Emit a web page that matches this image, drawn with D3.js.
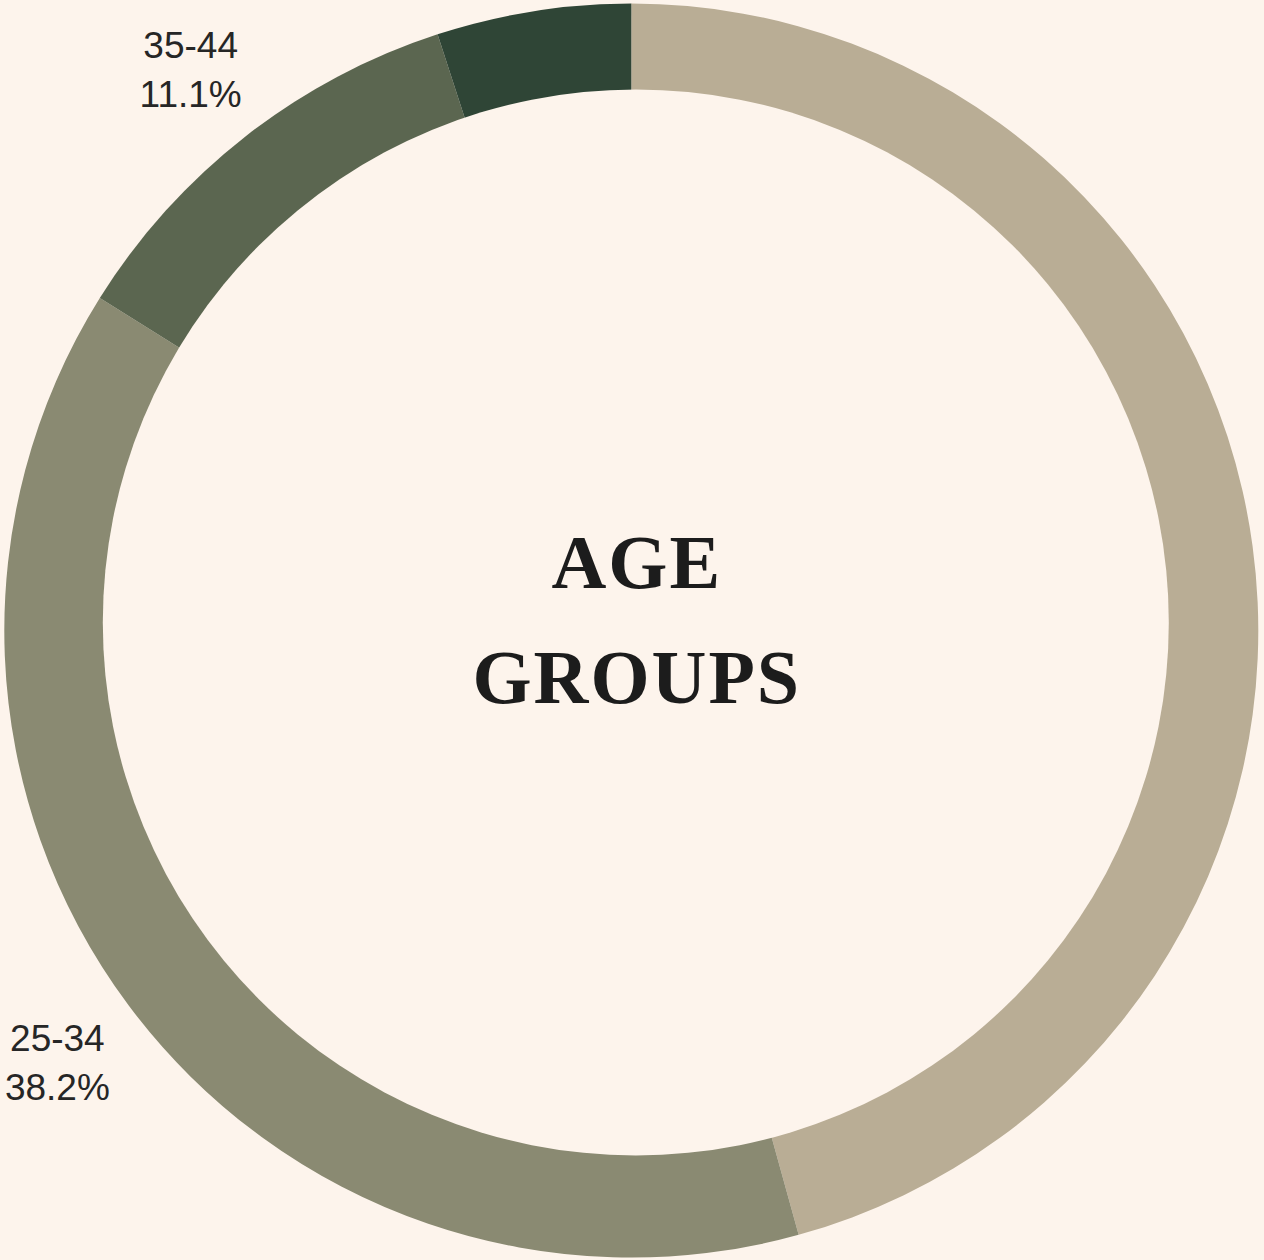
<!DOCTYPE html>
<html>
<head>
<meta charset="utf-8">
<script src="https://cdn.jsdelivr.net/npm/d3@7"></script>
<style>
  html, body { margin: 0; padding: 0; background: #fdf4ec; }
  svg { display: block; }
</style>
</head>
<body>
<script>
//chart data
var ageGroups = ["18-24", "25-34", "35-44", "45-54"];
var shares = [45.7, 38.2, 11.1, 5.0];
var sliceColors = ["#b9ad95", "#8a8a72", "#5b6650", "#2f4536"];
var titleLines = ["AGE", "GROUPS"];

window.onload = function(){

    var w = 1264, h = 1260;
    var cx = 631.3, cy = 630.6; //pie center
    var outerR = 627;
    var holeX = 635.8, holeY = 622.4, holeR = 533; //center hole
    var labelR = 716;

    var svg = d3.select("body")
        .append("svg")
        .attr("width", w)
        .attr("height", h)
        .style("background-color", "#fdf4ec");

    var data = ageGroups.map(function(g, i){
        return { group: g, value: shares[i] };
    });

    var color = d3.scaleOrdinal()
        .domain(ageGroups)
        .range(sliceColors);

    var pie = d3.pie()
        .sort(null)
        .value(function(d){ return d.value; });

    var arc = d3.arc()
        .innerRadius(0)
        .outerRadius(outerR);

    var labelArc = d3.arc()
        .innerRadius(labelR)
        .outerRadius(labelR);

    var g = svg.append("g")
        .attr("transform", "translate(" + cx + "," + cy + ")");

    //slices
    g.selectAll(".slice")
        .data(pie(data))
        .enter()
        .append("path")
        .attr("class", "slice")
        .attr("d", arc)
        .style("fill", function(d){ return color(d.data.group); });

    //hole in the middle
    svg.append("circle")
        .attr("cx", holeX)
        .attr("cy", holeY)
        .attr("r", holeR)
        .style("fill", "#fdf4ec");

    //outside labels - the ones that land off the page are left out
    var visibleArcs = pie(data).filter(function(d){
        var c = labelArc.centroid(d);
        var x = cx + c[0], y = cy + c[1];
        return x > 0 && x < w && y > 0 && y < h;
    });

    var labels = g.selectAll(".label")
        .data(visibleArcs)
        .enter()
        .append("text")
        .attr("class", "label")
        .attr("text-anchor", "middle")
        .attr("transform", function(d){
            return "translate(" + labelArc.centroid(d) + ")";
        })
        .style("font-family", "'Liberation Sans', Arial, sans-serif")
        .style("font-size", "37px")
        .style("fill", "#262626");

    labels.append("tspan")
        .attr("x", 0)
        .attr("y", -8)
        .text(function(d){ return d.data.group; });

    labels.append("tspan")
        .attr("x", 0)
        .attr("y", 41)
        .text(function(d){ return d.data.value.toFixed(1) + "%"; });

    //center title
    svg.append("text")
        .attr("text-anchor", "middle")
        .style("font-family", "'Liberation Serif', 'Times New Roman', serif")
        .style("font-weight", "bold")
        .style("font-size", "76px")
        .style("letter-spacing", "2px")
        .style("fill", "#1c1c1c")
        .selectAll("tspan")
        .data(titleLines)
        .enter()
        .append("tspan")
        .attr("x", holeX + 1)
        .attr("y", function(d, i){ return 588 + i * 115; })
        .text(function(d){ return d; });
};
</script>
</body>
</html>
